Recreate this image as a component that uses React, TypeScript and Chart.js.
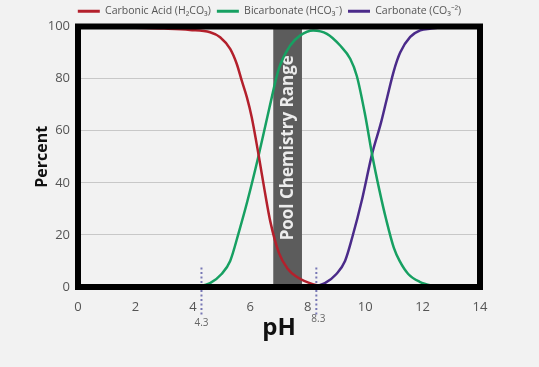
import React, { useEffect, useRef } from "react";
import { Chart, registerables } from "chart.js";

Chart.register(...registerables);

const seriesNames = ["Carbonic Acid (H\u2082CO\u2083)", "Bicarbonate (HCO\u2083\u207B)", "Carbonate (CO\u2083\u207B\u00B2)"];
const seriesColors = ["#b3202c", "#17a062", "#4b2b8a"];

const carbonicPH = [0, 1, 2, 3, 3.9, 4.6, 4.95, 5.3, 5.53, 5.7, 5.88, 6.05, 6.3, 6.5, 6.7, 7, 7.3, 7.6, 8.2, 8.8];
const carbonicPct = [100, 99.8, 99.5, 99.2, 98.7, 97.8, 95.9, 91.4, 85.6, 79.3, 72.9, 65.2, 50, 37, 25, 13, 7, 4, 1, 0];

const bicarbPH = [4.1, 4.6, 5, 5.3, 5.6, 5.9, 6.28, 6.67, 7, 7.39, 7.73, 8.19, 8.67, 9.13, 9.48, 9.71, 10, 10.24, 10.5, 10.73, 11, 11.2, 11.5, 11.9, 12.5];
const bicarbPct = [0, 1.5, 5, 10, 21, 33, 50, 69, 84, 92.7, 96.5, 98.5, 97.2, 92.7, 87.6, 81, 66, 51, 37, 26, 15, 10, 5, 2, 0];

const carbonatePH = [8.2, 8.6, 9, 9.3, 9.55, 9.9, 10.24, 10.55, 10.75, 11, 11.22, 11.57, 11.92, 12.3, 12.85];
const carbonatePct = [0, 1.5, 5, 10, 19, 34, 51, 63, 72, 83, 90, 96, 98.5, 99.2, 100];

const xTicks = [0, 2, 4, 6, 8, 10, 12, 14];
const yTicks = [0, 20, 40, 60, 80, 100];

const poolRange = [6.8, 7.8];
const poolLabel = "Pool Chemistry Range";

const markerValues = [4.3, 8.3];
const markerLabels = ["4.3", "8.3"];

const FONT = "'Open Sans', 'Noto Sans', sans-serif";

function toPoints(xs: number[], ys: number[]) {
  return xs.map((x, i) => ({ x, y: ys[i] }));
}

const bandPlugin = {
  id: "band",
  beforeDatasetsDraw(chart: any) {
    const { ctx, chartArea, scales } = chart;
    const x0 = scales.x.getPixelForValue(poolRange[0]);
    const x1 = scales.x.getPixelForValue(poolRange[1]);
    ctx.save();
    ctx.fillStyle = "#5c5c5c";
    ctx.fillRect(x0, chartArea.top, x1 - x0, chartArea.bottom - chartArea.top);
    ctx.translate((x0 + x1) / 2 + 1, (chartArea.top + chartArea.bottom) / 2 - 9);
    ctx.rotate(-Math.PI / 2);
    ctx.fillStyle = "#ececec";
    ctx.font = "bold 17px " + FONT;
    ctx.textAlign = "center";
    ctx.textBaseline = "middle";
    ctx.fillText(poolLabel, 0, 0);
    ctx.restore();
  },
};

const frameMarkerPlugin = {
  id: "frameMarker",
  afterDatasetsDraw(chart: any) {
    const { ctx, chartArea, scales } = chart;
    ctx.save();
    ctx.strokeStyle = "#7777b5";
    ctx.lineWidth = 2;
    ctx.setLineDash([2, 2.5]);
    markerValues.forEach((v) => {
      const x = scales.x.getPixelForValue(v);
      const yTop = scales.y.getPixelForValue(7.5);
      ctx.beginPath();
      ctx.moveTo(x, yTop);
      ctx.lineTo(x, chartArea.bottom + 30);
      ctx.stroke();
    });
    ctx.setLineDash([]);
    ctx.fillStyle = "#666";
    ctx.font = "10px " + FONT;
    ctx.textAlign = "center";
    ctx.textBaseline = "middle";
    markerValues.forEach((v, i) => {
      const x = scales.x.getPixelForValue(v);
      ctx.fillText(markerLabels[i], x + (i === 1 ? 2 : 0), chartArea.bottom + (i === 1 ? 32 : 36));
    });
    ctx.strokeStyle = "#000";
    ctx.lineWidth = 6;
    ctx.strokeRect(chartArea.left, chartArea.top, chartArea.right - chartArea.left, chartArea.bottom - chartArea.top);
    ctx.restore();
  },
};

export default function App() {
  const ref = useRef<HTMLCanvasElement | null>(null);
  useEffect(() => {
    document.body.style.margin = "0";
    const canvas = ref.current;
    if (!canvas) return;
    const mk = (i: number, xs: number[], ys: number[]) => ({
      label: seriesNames[i],
      data: toPoints(xs, ys),
      borderColor: seriesColors[i],
      backgroundColor: seriesColors[i],
      borderWidth: 2.5,
      pointRadius: 0,
      cubicInterpolationMode: "monotone" as const,
      clip: 4,
    });
    const chart = new Chart(canvas, {
      type: "line",
      data: {
        datasets: [
          mk(0, carbonicPH, carbonicPct),
          mk(1, bicarbPH, bicarbPct),
          mk(2, carbonatePH, carbonatePct),
        ],
      },
      options: {
        animation: false,
        responsive: false,
        layout: { padding: { left: 0, right: 0, top: 0, bottom: 20 } },
        plugins: {
          tooltip: { enabled: false },
          legend: {
            display: true,
            position: "top",
            labels: {
              boxWidth: 22,
              boxHeight: 3,
              padding: 6,
              color: "#555",
              font: { family: FONT, size: 10.5 },
              generateLabels(c: any) {
                const items = Chart.defaults.plugins.legend.labels.generateLabels(c);
                items.forEach((it: any) => {
                  it.lineWidth = 0;
                });
                return items;
              },
            },
          },
        },
        scales: {
          x: {
            type: "linear",
            min: 0,
            max: 14,
            afterFit(s: any) {
              s.height = 60;
            },
            afterBuildTicks(s: any) {
              s.ticks = xTicks.map((v) => ({ value: v }));
            },
            grid: { display: false, drawTicks: false },
            border: { display: false },
            ticks: { padding: 12, color: "#555", font: { family: FONT, size: 13 } },
            title: {
              display: true,
              text: "pH",
              color: "#111",
              font: { family: FONT, size: 24, weight: "bold" },
              padding: { top: 0, bottom: 4 },
            },
          },
          y: {
            type: "linear",
            min: 0,
            max: 100,
            afterFit(s: any) {
              s.width = 78;
            },
            afterBuildTicks(s: any) {
              s.ticks = yTicks.map((v) => ({ value: v }));
            },
            grid: { color: "#c8c8c8", lineWidth: 1, drawTicks: false },
            border: { display: false },
            ticks: { padding: 8, color: "#555", font: { family: FONT, size: 13 } },
            title: {
              display: true,
              text: "Percent",
              color: "#111",
              font: { family: FONT, size: 16, weight: "bold" },
              padding: { top: 33, bottom: 0 },
            },
          },
          yRight: {
            type: "linear",
            position: "right",
            min: 0,
            max: 100,
            afterFit(s: any) {
              s.width = 59;
            },
            grid: { display: false, drawTicks: false },
            border: { display: false },
            ticks: { display: false },
          },
        },
      },
      plugins: [bandPlugin, frameMarkerPlugin],
    });
    return () => chart.destroy();
  }, []);
  return (
    <div style={{ width: 539, height: 367, background: "#f2f2f2" }}>
      <canvas ref={ref} width={539} height={367} style={{ display: "block" }} />
    </div>
  );
}
